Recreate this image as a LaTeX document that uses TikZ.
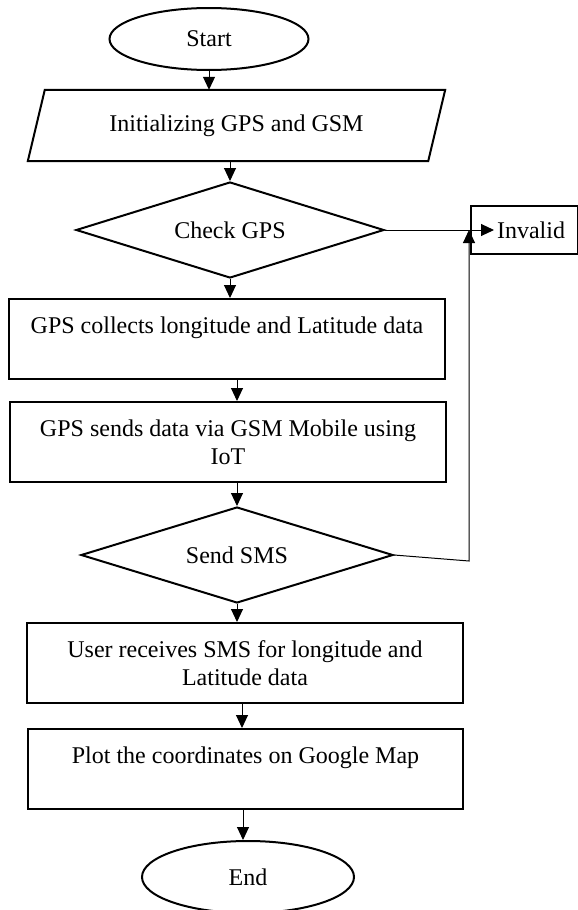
\documentclass[tikz,border=0pt]{standalone}
\usepackage{fontspec}
\setmainfont{Liberation Serif}
\usetikzlibrary{shapes.geometric,arrows.meta,calc}
\begin{document}
\begin{tikzpicture}[x=1pt,y=-1pt,
  every node/.style={font=\fontsize{24pt}{28pt}\selectfont},
  outline/.style={draw, line width=2pt},
  box/.style={outline, rectangle, minimum width=436pt, minimum height=80pt, inner sep=0pt, align=center},
  term/.style={outline, ellipse, inner sep=0pt},
  decision/.style={outline, diamond, aspect=3.2, inner sep=0pt},
  arr/.style={line width=1pt, -{Triangle[length=13pt,width=12pt]}}]
\useasboundingbox (0,0) rectangle (578,910);

\node[term, minimum width=199pt, minimum height=62pt] (start) at (209,39) {Start};
\node[minimum width=400pt, minimum height=71pt, inner sep=0pt] (init) at (236.5,125.5) {Initializing GPS and GSM};
\draw[line width=2pt, line join=miter]
  ($(init.north west)+(8.5,0)$) -- ($(init.north east)+(8.5,0)$) --
  ($(init.south east)+(-8.5,0)$) -- ($(init.south west)+(-8.5,0)$) -- cycle;
\node[decision, minimum width=308pt, minimum height=96pt] (d1) at (230,230) {Check GPS};
\node[outline, minimum width=107pt, minimum height=48pt, text width=81pt, inner xsep=13pt, align=right] (inv) at (524.5,230) {Invalid};
\node[box] (b1) at (227,339) {GPS collects longitude and Latitude data\\\mbox{}};
\node[box] (b2) at (228,442) {GPS sends data via GSM Mobile using\\IoT};
\node[decision, minimum width=312pt, minimum height=96pt] (d2) at (237,555) {Send SMS};
\node[box] (b3) at (245,663) {User receives SMS for longitude and\\Latitude data};
\node[box, minimum width=435pt] (b4) at (245.5,769) {Plot the coordinates on Google Map\\\mbox{}};
\node[term, minimum width=212pt, minimum height=72pt] (end) at (248,877) {End};

\draw[arr] (start.south) -- (start.south |- init.north);
\draw[arr] (d1.north |- init.south) -- (d1.north);
\draw[arr] (d1.south) -- (d1.south |- b1.north);
\draw[arr] (d2.north |- b1.south) -- (d2.north |- b2.north);
\draw[arr] (d2.north |- b2.south) -- (d2.north);
\draw[arr] (d2.south) -- (d2.south |- b3.north);
\draw[arr] ([xshift=-3pt]b3.south) -- ([xshift=-3pt]b3.south |- b4.north);
\draw[arr] ([xshift=-2.5pt]b4.south) -- ([xshift=-2.5pt]b4.south |- end.north);

\coordinate (invtip) at ([xshift=24pt]inv.west);
\draw[arr] (d1.east) -- (invtip);
\coordinate (bend) at (469,561);
\draw[arr] (d2.east) -- (bend) -- (bend |- d1.east);
\end{tikzpicture}
\end{document}
